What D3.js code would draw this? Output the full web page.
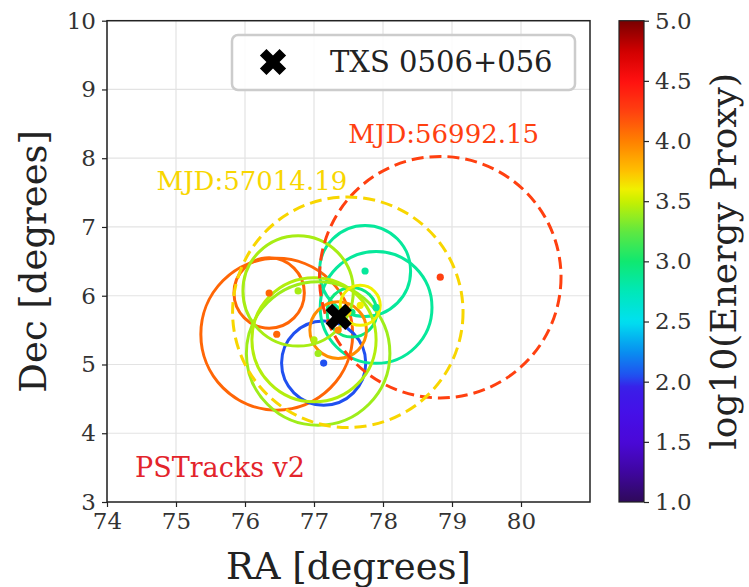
<!DOCTYPE html>
<html><head><meta charset="utf-8">
<script src="https://cdn.jsdelivr.net/npm/d3@7"></script>
<style>body{margin:0;background:#fff}svg{display:block}text{font-family:"DejaVu Serif",serif}</style>
</head><body><svg id="chart" width="749" height="587"></svg>
<script>
// ---- data ----
const trackRA     = [76.46, 76.35, 77.14, 77.74, 77.90, 77.55, 77.35, 76.77, 77.06, 77.00, 77.67, 78.83, 77.49];
const trackDec    = [5.44, 6.04, 5.02, 6.36, 5.83, 5.76, 5.50, 6.07, 5.16, 5.36, 5.86, 6.27, 5.76];
const trackRadius = [1.10, 0.51, 0.61, 0.66, 0.81, 0.36, 0.41, 0.80, 1.04, 0.90, 0.29, 1.75, 1.67];
const trackLogE   = [4.10, 4.10, 2.05, 2.85, 2.85, 2.95, 3.95, 3.42, 3.40, 3.45, 3.60, 4.25, 3.68];
const trackDashed = [false,false,false,false,false,false,false,false,false,false,false,true,true];
const mjdLabels   = ["MJD:56992.15", "MJD:57014.19"];
const mjdLabelRA  = [78.88, 76.10];
const mjdLabelDec = [8.22, 7.54];
const mjdLabelLogE= [4.25, 3.68];
const sourceName  = "TXS 0506+056";
const sourceRA    = 77.358;
const sourceDec   = 5.693;
const xTicks      = [74, 75, 76, 77, 78, 79, 80];
const yTicks      = [3, 4, 5, 6, 7, 8, 9, 10];
const cbTicks     = [1.0, 1.5, 2.0, 2.5, 3.0, 3.5, 4.0, 4.5, 5.0];
const sampleName  = "PSTracks v2";

// ---- scales ----
const svg = d3.select("#chart");
const L = 107, R = 590, T = 20.7, B = 502;
const x = d3.scaleLinear().domain([74, 81]).range([L, R]);
const y = d3.scaleLinear().domain([3, 10]).range([B, T]);
const color = d3.scaleLinear()
  .domain([1.0, 1.25, 1.5, 1.75, 1.95, 2.05, 2.25, 2.5, 2.75, 3.0, 3.25, 3.5, 3.6, 3.75, 4.0, 4.25, 4.5, 4.75, 5.0])
  .range(["#2e0a5a","#3f06a0","#4a08d8","#4510e8","#3a1ee8","#2050f0","#0890f0","#00e0f0","#00e8b8","#10e870","#60e840","#c8f000","#f0f000","#ffc000","#ff8000","#ff4010","#ff1010","#d00000","#780000"])
  .interpolate(d3.interpolateRgb).clamp(true);

svg.append("rect").attr("width", 749).attr("height", 587).attr("fill", "#fff");

// grid
const grid = svg.append("g");
grid.selectAll(".gx").data(xTicks).join("line")
  .attr("x1", d => x(d)).attr("x2", d => x(d)).attr("y1", T).attr("y2", B)
  .attr("stroke", "#e3e3e3").attr("stroke-width", 1.2);
grid.selectAll(".gy").data(yTicks).join("line")
  .attr("y1", d => y(d)).attr("y2", d => y(d)).attr("x1", L).attr("x2", R)
  .attr("stroke", "#e3e3e3").attr("stroke-width", 1.2);

// clip
svg.append("clipPath").attr("id", "clip").append("rect")
  .attr("x", L).attr("y", T).attr("width", R - L).attr("height", B - T);
const plot = svg.append("g").attr("clip-path", "url(#clip)");

const tracks = trackRA.map((ra, i) => ({ra, dec: trackDec[i], r: trackRadius[i], e: trackLogE[i], dashed: trackDashed[i]}));
const order = tracks.filter(d => !d.dashed).concat(tracks.filter(d => d.dashed));
plot.selectAll(".trk").data(order).join("circle")
  .attr("cx", d => x(d.ra)).attr("cy", d => y(d.dec))
  .attr("r", d => x(d.ra + d.r) - x(d.ra))
  .attr("fill", "none").attr("stroke", d => color(d.e)).attr("stroke-width", 3)
  .attr("stroke-dasharray", d => d.dashed ? "12,6" : null);
plot.selectAll(".dot").data(tracks).join("circle")
  .attr("cx", d => x(d.ra)).attr("cy", d => y(d.dec)).attr("r", 3.6)
  .attr("fill", d => color(d.e));

// source marker
const xMark = d3.symbol().type(d3.symbolCross).size(430);
plot.append("path").attr("d", xMark())
  .attr("transform", `translate(${x(sourceRA)},${y(sourceDec)}) rotate(45)`).attr("fill", "#000");

// MJD labels
svg.selectAll(".mjd").data(mjdLabels).join("text")
  .attr("x", (d, i) => x(mjdLabelRA[i])).attr("y", (d, i) => y(mjdLabelDec[i]))
  .attr("text-anchor", "middle").attr("font-size", 26)
  .attr("fill", (d, i) => color(mjdLabelLogE[i])).text(d => d);

svg.append("text").attr("x", 135).attr("y", 477).attr("font-size", 27)
  .attr("fill", "#e3242b").text(sampleName);

// axes
const ax = svg.append("g").attr("transform", `translate(0,${B})`)
  .call(d3.axisBottom(x).tickValues(xTicks).tickSize(5).tickPadding(6).tickFormat(d3.format("d")));
const ay = svg.append("g").attr("transform", `translate(${L},0)`)
  .call(d3.axisLeft(y).tickValues(yTicks).tickSize(5).tickPadding(6).tickFormat(d3.format("d")));
[ax, ay].forEach(g => {
  g.select(".domain").remove();
  g.selectAll("text").attr("font-size", 23).attr("fill", "#333").attr("font-family", "DejaVu Serif");
  g.selectAll("line").attr("stroke", "#222").attr("stroke-width", 1.2);
});
svg.append("rect").attr("x", L).attr("y", T).attr("width", R - L).attr("height", B - T)
  .attr("fill", "none").attr("stroke", "#222").attr("stroke-width", 1.5);

svg.append("text").attr("x", (L + R) / 2).attr("y", 579).attr("text-anchor", "middle")
  .attr("font-size", 37).attr("fill", "#222").text("RA [degrees]");
svg.append("text").attr("transform", `translate(46,${(T + B) / 2}) rotate(-90)`).attr("text-anchor", "middle")
  .attr("font-size", 37).attr("fill", "#222").text("Dec [degrees]");

// legend
const lg = svg.append("g");
lg.append("rect").attr("x", 232).attr("y", 35).attr("width", 343).attr("height", 55).attr("rx", 6)
  .attr("fill", "#fff").attr("fill-opacity", 0.85).attr("stroke", "#cccccc").attr("stroke-width", 2.5);
lg.append("path").attr("d", xMark()).attr("transform", "translate(273,62) rotate(45)").attr("fill", "#000");
lg.append("text").attr("x", 330).attr("y", 72).attr("font-size", 29).attr("fill", "#222").text(sourceName);

// colorbar
const cy = d3.scaleLinear().domain([1, 5]).range([B, T]);
const cbX = 619, cbW = 25;
const defs = svg.append("defs");
const grad = defs.append("linearGradient").attr("id", "cbgrad").attr("x1", 0).attr("y1", 1).attr("x2", 0).attr("y2", 0);
const steps = d3.range(0, 1.0001, 0.01);
grad.selectAll("stop").data(steps).join("stop")
  .attr("offset", d => d).attr("stop-color", d => color(1 + 4 * d));
svg.append("rect").attr("x", cbX).attr("y", T).attr("width", cbW).attr("height", B - T)
  .attr("fill", "url(#cbgrad)").attr("stroke", "#222").attr("stroke-width", 1.2);
const cax = svg.append("g").attr("transform", `translate(${cbX + cbW},0)`)
  .call(d3.axisRight(cy).tickValues(cbTicks).tickSize(5).tickPadding(6).tickFormat(d3.format(".1f")));
cax.select(".domain").remove();
cax.selectAll("text").attr("font-size", 23).attr("fill", "#333").attr("font-family", "DejaVu Serif");
cax.selectAll("line").attr("stroke", "#222").attr("stroke-width", 1.2);
svg.append("text").attr("transform", `translate(736,${(T + B) / 2}) rotate(-90)`).attr("text-anchor", "middle")
  .attr("font-size", 36).attr("fill", "#222").text("log10(Energy Proxy)");
</script></body></html>
